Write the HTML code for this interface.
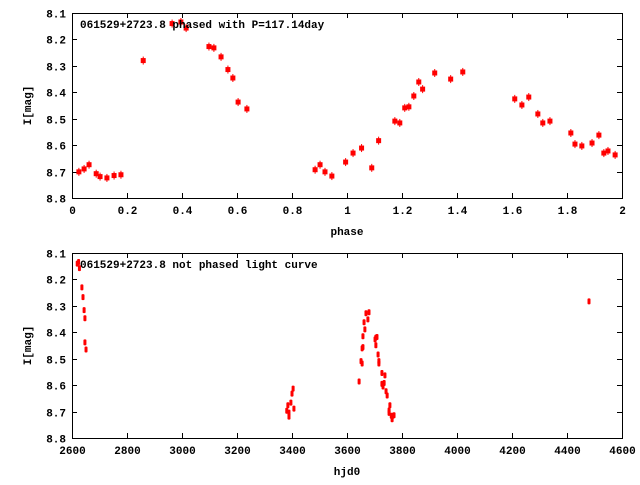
<!DOCTYPE html>
<html><head><meta charset="utf-8"><style>
html,body{margin:0;padding:0;background:#fff;}
svg text{font-family:"Liberation Mono",monospace;font-weight:bold;font-size:11px;fill:#000;}
</style></head><body>
<svg id="svg" width="640" height="480" viewBox="0 0 640 480" xmlns="http://www.w3.org/2000/svg">
<rect width="640" height="480" fill="#fff"/>
</svg>
<script>
const phaseVals=[0.025,0.044,0.062,0.088,0.102,0.127,0.153,0.178,0.259,0.364,0.396,0.415,0.498,0.516,0.542,0.567,0.585,0.604,0.636,0.884,0.902,0.920,0.945,0.995,1.022,1.053,1.090,1.115,1.174,1.192,1.210,1.225,1.243,1.261,1.275,1.319,1.377,1.421,1.610,1.636,1.661,1.694,1.712,1.738,1.814,1.829,1.854,1.891,1.916,1.934,1.949,1.975];
const phaseMags=[8.701,8.690,8.674,8.708,8.719,8.724,8.715,8.712,8.280,8.140,8.134,8.157,8.227,8.232,8.266,8.314,8.346,8.437,8.463,8.693,8.674,8.701,8.717,8.664,8.630,8.611,8.686,8.583,8.509,8.516,8.459,8.455,8.414,8.361,8.388,8.327,8.350,8.323,8.425,8.448,8.418,8.482,8.516,8.509,8.554,8.596,8.603,8.592,8.562,8.630,8.622,8.637];
const hjdVals=[2619,2624,2627,2636,2640,2644,2647,2647,2651,3381,3385,3389,3389,3396,3400,3404,3407,3644,3651,3655,3655,3658,3658,3662,3665,3669,3676,3680,3702,3705,3709,3705,3713,3716,3716,3727,3738,3727,3731,3735,3742,3746,3753,3756,3753,3761,3764,3767,3771,4480];
const hjdMags=[8.140,8.134,8.157,8.230,8.267,8.316,8.347,8.438,8.465,8.697,8.676,8.704,8.719,8.666,8.632,8.613,8.689,8.586,8.509,8.518,8.461,8.456,8.415,8.362,8.389,8.328,8.351,8.324,8.427,8.420,8.418,8.449,8.484,8.509,8.518,8.554,8.563,8.595,8.605,8.592,8.623,8.639,8.696,8.676,8.705,8.716,8.729,8.716,8.714,8.283];
const topXTicks=["0","0.2","0.4","0.6","0.8","1","1.2","1.4","1.6","1.8","2"];
const botXTicks=["2600","2800","3000","3200","3400","3600","3800","4000","4200","4400","4600"];
const yTicks=["8.1","8.2","8.3","8.4","8.5","8.6","8.7","8.8"];

const NS="http://www.w3.org/2000/svg";
const svg=document.getElementById('svg');
function mk(tag,attrs,parent){const e=document.createElementNS(NS,tag);for(const k in attrs)e.setAttribute(k,attrs[k]);(parent||svg).appendChild(e);return e;}

function panel(o){
  const g=mk('g',{});
  
  
  const L=72,R=622,T=o.top,B=o.bottom;
  const sx=v=>L+(v-o.xmin)/(o.xmax-o.xmin)*(R-L);
  const sy=v=>T+(v-8.1)/(0.7)*(B-T);
  const fr=mk('rect',{x:L+0.5,y:T+0.5,width:R-L,height:B-T,fill:'none',stroke:'#000','stroke-width':1},g);
  
  
  o.xticks.forEach((t,i)=>{
    const v=o.xmin+i*(o.xmax-o.xmin)/(o.xticks.length-1);const x=Math.round(sx(v))+0.5;
    mk('line',{x1:x,y1:B,x2:x,y2:B-5,stroke:'#000'},g);
    mk('line',{x1:x,y1:T,x2:x,y2:T+5,stroke:'#000'},g);
    const tx=mk('text',{x:x,y:B+16,'text-anchor':'middle'},g);tx.textContent=t;
    
    
  });
  yTicks.forEach((t)=>{
    const y=Math.round(sy(parseFloat(t)))+0.5;
    mk('line',{x1:L,y1:y,x2:L+5,y2:y,stroke:'#000'},g);
    mk('line',{x1:R,y1:y,x2:R-5,y2:y,stroke:'#000'},g);
    const ty=mk('text',{x:66,y:y+4,'text-anchor':'end'},g);ty.textContent=t;
    
    
  });
  o.xs.forEach((v,i)=>{
    const x=sx(v),y=sy(o.ys[i]);
    const pg=mk('g',{},g);
    
    
    if(o.big){
      mk('line',{x1:x,y1:y-4,x2:x,y2:y+4,stroke:'#f00','stroke-width':1},pg);
      mk('rect',{x:x-2.5,y:y-2.5,width:5,height:5,fill:'#f00'},pg);
    }else{
      mk('rect',{x:x-1.5,y:y-3,width:3,height:6,rx:1,fill:'#f00'},pg);
    }
  });
  const ti=mk('text',{x:80,y:T+15},g);ti.textContent=o.title;
  
  
  const yl=mk('text',{x:0,y:0,'text-anchor':'middle',transform:`translate(31,${(T+B)/2}) rotate(-90)`},g);yl.textContent='I[mag]';
  
  
  const xl=mk('text',{x:(L+R)/2,y:B+37,'text-anchor':'middle'},g);xl.textContent=o.xlabel;
  
  
}
panel({name:'phased-plot',top:13,bottom:198,xmin:0,xmax:2,xticks:topXTicks,xs:phaseVals,ys:phaseMags,big:true,title:'061529+2723.8 phased with P=117.14day',xlabel:'phase'});
panel({name:'unphased-plot',top:253,bottom:438,xmin:2600,xmax:4600,xticks:botXTicks,xs:hjdVals,ys:hjdMags,big:false,title:'061529+2723.8 not phased light curve',xlabel:'hjd0'});
</script>
</body></html>
